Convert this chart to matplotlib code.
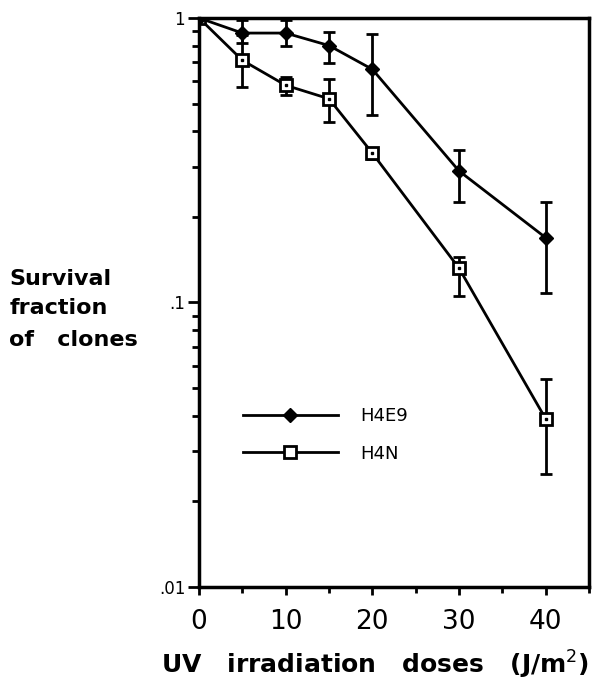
import numpy as np
import matplotlib
matplotlib.use('Agg')
import matplotlib.pyplot as plt
from matplotlib.lines import Line2D
from matplotlib.ticker import FixedLocator, NullFormatter, LogLocator

# doses (J/m2)
dose = [0, 5, 10, 15, 20, 30, 40]

# H4E9 survival + error bar ends
h4e9 = [1.0, 0.885, 0.885, 0.80, 0.66, 0.29, 0.169]
h4e9_lo = [1.0, 0.817, 0.80, 0.695, 0.456, 0.225, 0.108]
h4e9_hi = [1.0, 0.98, 0.98, 0.89, 0.88, 0.344, 0.225]

# H4N survival + error bar ends
h4n = [1.0, 0.71, 0.58, 0.52, 0.335, 0.132, 0.039]
h4n_lo = [1.0, 0.571, 0.537, 0.43, 0.32, 0.105, 0.025]
h4n_hi = [1.0, 0.87, 0.62, 0.61, 0.35, 0.145, 0.054]

xticks = [0, 10, 20, 30, 40]
yticks = [0.01, 0.1, 1]
ytick_labels = ['.01', '.1', '1']

plt.rcParams['font.family'] = 'DejaVu Sans'

fig = plt.figure(figsize=(6.12, 6.86), dpi=100)
ax = fig.add_axes([0.3252, 0.1443, 0.9624 - 0.3252, 0.9738 - 0.1443])

def err(y, lo, hi):
    y = np.array(y)
    return [y - np.array(lo), np.array(hi) - y]

ax.errorbar(dose, h4n, yerr=err(h4n, h4n_lo, h4n_hi), color='black', lw=2,
            marker='s', ms=8, mfc='white', mec='black', mew=2, capsize=4,
            capthick=2, elinewidth=2, zorder=3)
# little dot inside the open squares
ax.plot(dose, h4n, ls='none', marker='s', ms=2, color='black', zorder=4)
ax.errorbar(dose, h4e9, yerr=err(h4e9, h4e9_lo, h4e9_hi), color='black', lw=2,
            marker='D', ms=7, mfc='black', mec='black', capsize=4, capthick=2,
            elinewidth=2, zorder=5)

ax.set_yscale('log')
ax.set_xlim(0, 45)
ax.set_ylim(0.01, 1)

ax.xaxis.set_major_locator(FixedLocator(xticks))
ax.xaxis.set_minor_locator(FixedLocator([5, 15, 25, 35, 45]))
ax.set_xticklabels([str(t) for t in xticks], fontsize=19)

ax.yaxis.set_major_locator(FixedLocator(yticks))
ax.set_yticklabels(ytick_labels, fontsize=12)
ax.yaxis.set_minor_locator(LogLocator(base=10, subs=np.arange(2, 10)))
ax.yaxis.set_minor_formatter(NullFormatter())

ax.tick_params(axis='x', which='major', direction='out', length=6, width=2, pad=10)
ax.tick_params(axis='x', which='minor', direction='out', length=4, width=2)
ax.tick_params(axis='y', which='major', direction='out', length=8, width=2, pad=2)
ax.tick_params(axis='y', which='minor', direction='out', length=5, width=2)

for s in ax.spines.values():
    s.set_linewidth(2.5)

ax.set_xlabel('UV   irradiation   doses   (J/m$^2$)', fontsize=18,
              fontweight='bold')
ax.xaxis.set_label_coords(0.45, -0.108)

fig.text(0.015, 0.594, 'Survival', fontsize=16, fontweight='bold', va='center')
fig.text(0.015, 0.551, 'fraction', fontsize=16, fontweight='bold', va='center')
fig.text(0.015, 0.505, 'of   clones', fontsize=16, fontweight='bold', va='center')

handles = [
    Line2D([], [], color='black', lw=2, marker='D', ms=7, mfc='black'),
    Line2D([], [], color='black', lw=2, marker='s', ms=8, mfc='white', mew=2),
]
ax.legend(handles, ['H4E9', 'H4N'], loc='upper left', bbox_to_anchor=(0.07, 0.345),
          frameon=False, fontsize=13, handlelength=5.3, handletextpad=1.2,
          labelspacing=1.1)

fig.savefig('out.png', dpi=100)
